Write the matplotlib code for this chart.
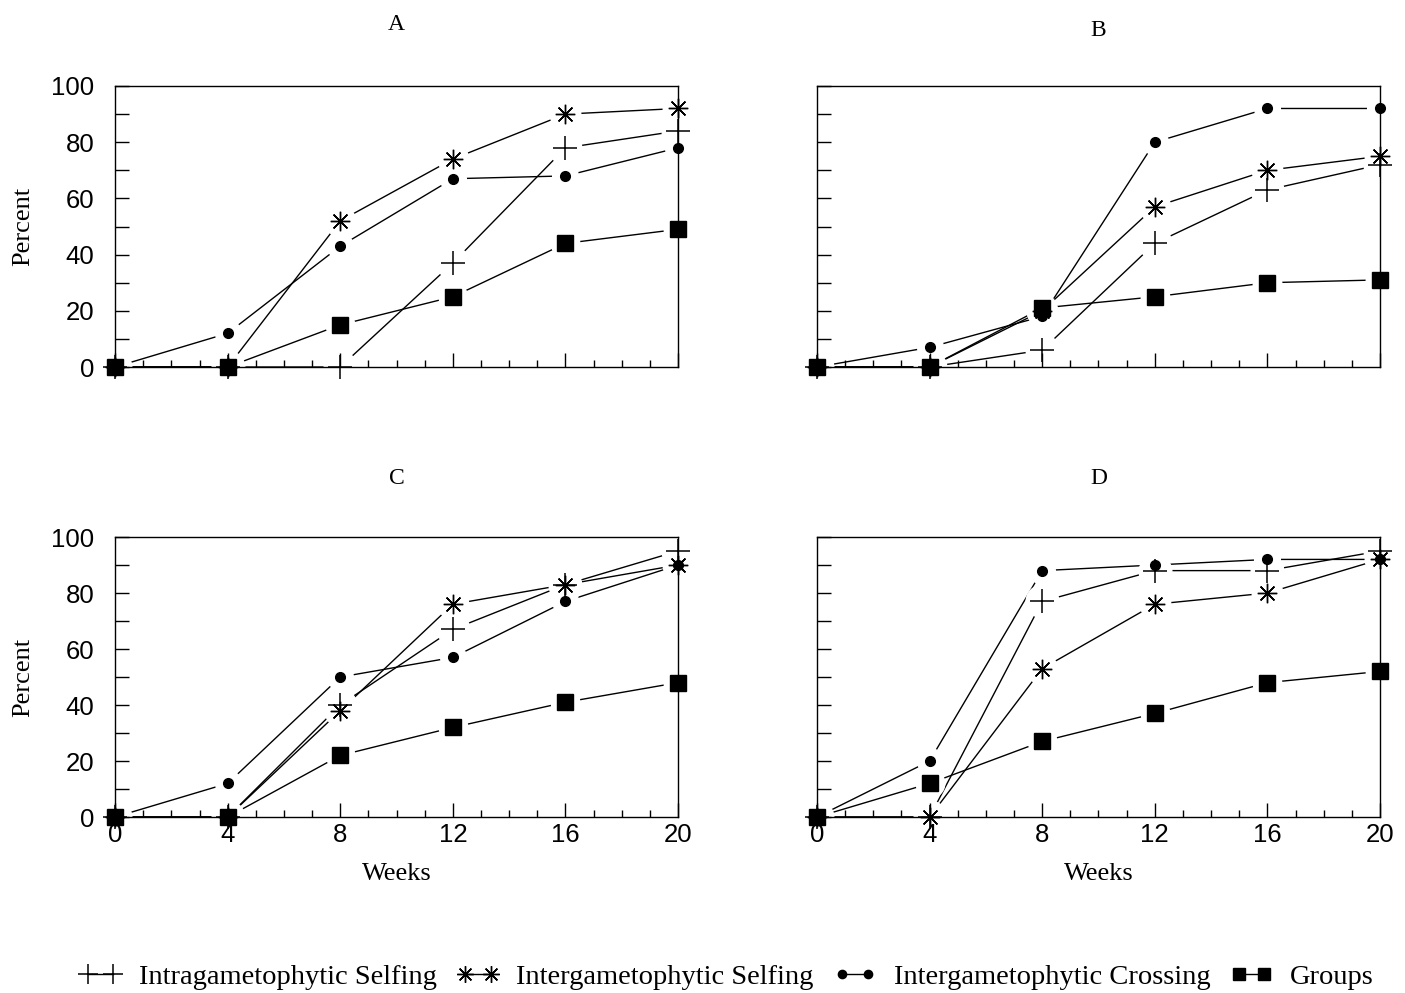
import matplotlib
matplotlib.use("Agg")
import matplotlib.pyplot as plt
from matplotlib.ticker import MultipleLocator

# Weeks after sowing
weeks = [0, 4, 8, 12, 16, 20]

# Percent values, one list per series and panel
intra_self = {
    "A": [0, 0, 0, 37, 78, 84],
    "B": [0, 0, 6, 44, 63, 72],
    "C": [0, 0, 40, 67, 83, 95],
    "D": [0, 0, 77, 88, 88, 95],
}
inter_self = {
    "A": [0, 0, 52, 74, 90, 92],
    "B": [0, 0, 20, 57, 70, 75],
    "C": [0, 0, 38, 76, 83, 90],
    "D": [0, 0, 53, 76, 80, 92],
}
inter_cross = {
    "A": [0, 12, 43, 67, 68, 78],
    "B": [0, 7, 18, 80, 92, 92],
    "C": [0, 12, 50, 57, 77, 90],
    "D": [0, 20, 88, 90, 92, 92],
}
groups = {
    "A": [0, 0, 15, 25, 44, 49],
    "B": [0, 0, 21, 25, 30, 31],
    "C": [0, 0, 22, 32, 41, 48],
    "D": [0, 12, 27, 37, 48, 52],
}

series_names = ["Intragametophytic Selfing", "Intergametophytic Selfing",
                "Intergametophytic Crossing", "Groups"]
panels = ["A", "B", "C", "D"]

serif = "Liberation Serif"
sans = "Liberation Sans"

# marker style for each series: (marker, size, edge width)
styles = [("+", 17, 1.1), ((8, 2, 0), 14, 1.0), ("o", 7, 1.0), ("s", 11, 1.0)]

fig = plt.figure(figsize=(14.05, 9.93), dpi=100)

positions = {
    "A": [0.0819, 0.6304, 0.4007, 0.2830],
    "B": [0.5815, 0.6304, 0.4007, 0.2830],
    "C": [0.0819, 0.1772, 0.4007, 0.2820],
    "D": [0.5815, 0.1772, 0.4007, 0.2820],
}

handles = []
for p in panels:
    ax = fig.add_axes(positions[p])
    data = [intra_self[p], inter_self[p], inter_cross[p], groups[p]]
    for vals, (mk, ms, mew) in zip(data, styles):
        ax.plot(weeks, vals, color="black", lw=1.0, zorder=2, clip_on=False)
        # white halo so lines stop short of the markers
        ax.plot(weeks, vals, ls="none", marker="o", ms=ms * 0.5 + 15,
                mfc="white", mec="white", zorder=3, clip_on=False)
    for vals, (mk, ms, mew) in zip(data, styles):
        ax.plot(weeks, vals, ls="none", marker=mk, ms=ms, mew=mew,
                color="black", zorder=5, clip_on=False)
        if p == "A":
            handles.append(plt.Line2D([], [], color="black", lw=1.0, marker=mk,
                                      ms=ms * 0.85, mew=mew))
    ax.set_xlim(0, 20)
    ax.set_ylim(0, 100)
    ax.xaxis.set_major_locator(MultipleLocator(4))
    ax.xaxis.set_minor_locator(MultipleLocator(1))
    ax.yaxis.set_major_locator(MultipleLocator(20))
    ax.yaxis.set_minor_locator(MultipleLocator(10))
    ax.tick_params(which="both", direction="in", width=1.0)
    ax.tick_params(axis="x", which="both", pad=4)
    ax.tick_params(axis="y", which="both", pad=15)
    ax.tick_params(which="major", length=10)
    ax.tick_params(which="minor", length=5)
    ax.tick_params(axis="y", which="minor", length=10)
    ax.xaxis.set_zorder(4.5)
    ax.yaxis.set_zorder(4.5)
    for s in ax.spines.values():
        s.set_linewidth(1.0)
        s.set_zorder(4)
    for lab in ax.get_xticklabels() + ax.get_yticklabels():
        lab.set_fontfamily(sans)
        lab.set_fontsize(18.5)
    ax.set_ylabel("Percent", fontfamily=serif, fontsize=19, labelpad=12)
    if p in ("A", "B"):
        ax.set_xticklabels([])
        ax.set_title(p, fontfamily=serif, fontsize=17, pad=40 if p == "A" else 36)
    else:
        ax.set_xlabel("Weeks", fontfamily=serif, fontsize=19, labelpad=12)
        ax.set_title(p, fontfamily=serif, fontsize=17, pad=38)
    if p in ("B", "D"):
        ax.set_ylabel("")
        ax.set_yticklabels([])

fig.legend(handles, series_names, loc="center", bbox_to_anchor=(0.517, 0.016),
           ncol=4, frameon=False, numpoints=2, handlelength=1.5,
           handletextpad=0.6, columnspacing=0.7,
           prop={"family": serif, "size": 20.5})

fig.savefig("out.png", dpi=100)
